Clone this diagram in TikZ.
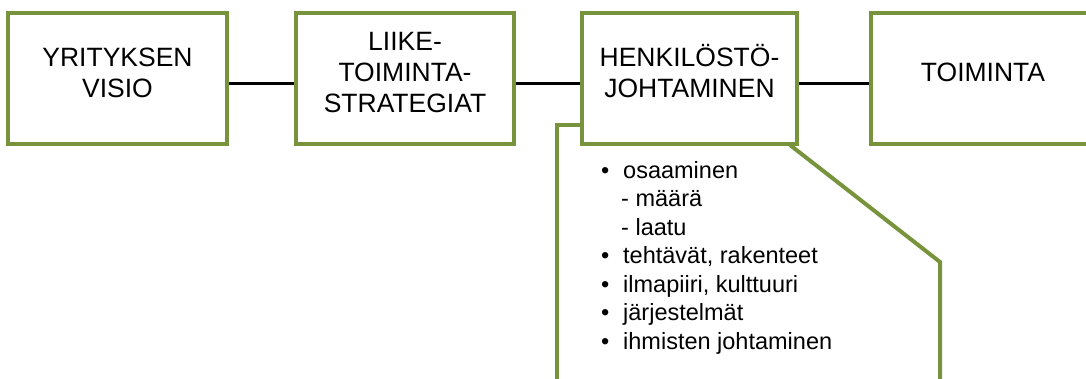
\documentclass[tikz,border=0pt]{standalone}
\usepackage{fontspec}
\setmainfont{Liberation Sans}
\definecolor{olive}{RGB}{119,147,60}
\newcommand\blt{\makebox[22pt][l]{\textbullet}}
\newcommand\boxtext[1]{\raisebox{3pt}[\height][\depth]{\begin{tabular}{@{}c@{}}#1\end{tabular}}}
\begin{document}
\begin{tikzpicture}[x=1pt,y=-1pt,
  box/.style={draw=olive,line width=4pt,fill=white,inner sep=0pt,align=center,
    font=\fontsize{26.5}{31}\selectfont,minimum height=131pt},
  conn/.style={draw=black,line width=3pt},
  gline/.style={draw=olive,line width=4pt,line join=miter},
  listtext/.style={inner sep=0pt,anchor=base west,font=\fontsize{23.5}{28}\selectfont}]
\useasboundingbox (0,0) rectangle (1086,378);
\begin{scope}
\clip (0,0) rectangle (1086,378);
% green open shape under the third box
\coordinate (gl1) at (581,125);
\coordinate (gl2) at (557,125);
\coordinate (gl3) at (557,385);
\coordinate (gr1) at (790,145);
\coordinate (gr2) at (940,262);
\coordinate (gr3) at (940,385);
\draw[gline] (gl1) -- (gl2) -- (gl3);
\draw[gline] (gr1) -- (gr2) -- (gr3);
% boxes
\node[box,minimum width=219pt] (b1) at (117.5,78.5) {\boxtext{YRITYKSEN\\VISIO}};
\node[box,minimum width=218pt] (b2) at (405,78.5) {\boxtext{LIIKE-\\TOIMINTA-\\STRATEGIAT}};
\node[box,minimum width=215pt] (b3) at (689.5,78.5) {\boxtext{HENKILÖSTÖ-\\JOHTAMINEN}};
\node[box,minimum width=224pt] (b4) at (983,78.5) {\boxtext{TOIMINTA}};
% connectors
\draw[conn] ([yshift=-5pt]b1.east) -- ([yshift=-5pt]b2.west);
\draw[conn] ([yshift=-5pt]b2.east) -- ([yshift=-5pt]b3.west);
\draw[conn] ([yshift=-5pt]b3.east) -- ([yshift=-5pt]b4.west);
% list
\node[listtext] (l1) at (601,178) {\blt osaaminen};
\node[listtext] (l2) at (601,206.5) {\hspace*{20pt}- määrä};
\node[listtext] (l3) at (601,235) {\hspace*{20pt}- laatu};
\node[listtext] (l4) at (601,263.5) {\blt tehtävät, rakenteet};
\node[listtext] (l5) at (601,292) {\blt ilmapiiri, kulttuuri};
\node[listtext] (l6) at (601,320.5) {\blt järjestelmät};
\node[listtext] (l7) at (601,349) {\blt ihmisten johtaminen};
\end{scope}
\end{tikzpicture}
\end{document}
